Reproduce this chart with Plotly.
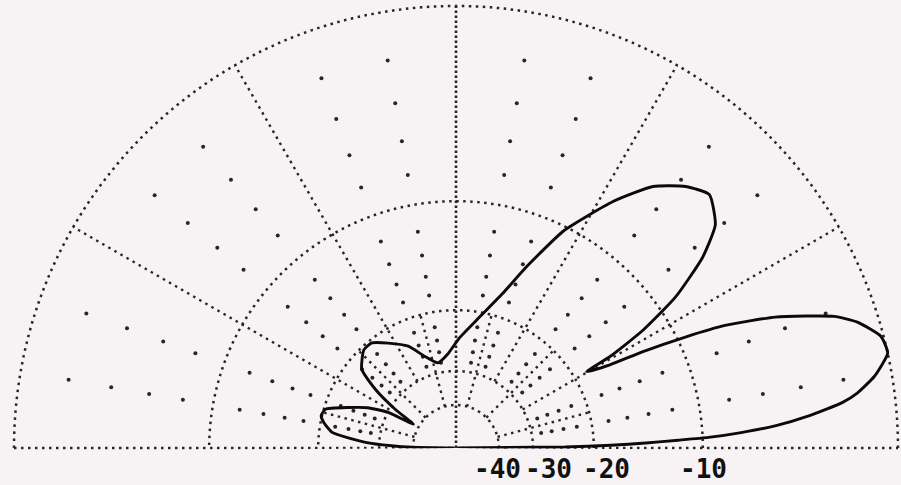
import numpy as np
import plotly.graph_objects as go

# ---------------- data ----------------
# elevation angle (deg, 0 = right horizon, 180 = left horizon) and relative gain (dB)
ANGLE_DEG = [0, 0.5, 1.0, 1.5, 2.0, 2.4, 3.1, 4.0, 5.2, 6.7, 7.8, 9.7, 12.4, 14.7,
             17.4, 19.2, 22.3, 24.5, 25.8, 27.3, 28.4, 30.3,
             30.7, 32.2, 34.5, 37.7, 40.7, 45.0, 48.7, 53.0, 57.5, 63.6, 68.9, 73.2,
             79.8, 88.1, 95.0, 101.9, 108.7, 115.1, 122.8, 128.7, 133.2, 140.2, 144.0,
             147.5, 150.8, 152.3, 155.5, 159.4, 163.5, 166.5, 169.1, 172.8, 176.4,
             178.0, 179.0, 180]
GAIN_DB = [-99, -24, -18, -14.5, -11.8, -9.6, -7.5, -5.5, -3.8, -2.2, -1.5, -0.7, 0.0, -0.1,
           -0.85, -1.7, -4.25, -6.9, -9.4, -12.8, -15.9, -18.4,
           -15.5, -11.9, -8.7, -6.0, -4.4, -3.6, -4.1, -5.15, -7.1, -10.3, -14.2, -17.3,
           -20.6, -23.8, -26.5, -27.9, -26.1, -23.5, -21.7, -20.4, -20.4, -22.0, -25.6,
           -31.1, -37.8, -30.1, -26.0, -23.1, -20.2, -19.9, -20.4, -21.7, -27.2,
           -33.0, -40.0, -99]

DENSE_RING_DB = [0, -10, -20, -30, -40]
SPARSE_RING_DB = [-2, -4, -6, -8, -12, -14, -16, -18, -22, -24, -26, -28]
SPARSE_STEP_DEG = 10
MAJOR_SPOKE_DEG = [30, 60, 120, 150]      # outer ring -> -30 dB ring
MINOR_SPOKE_DEG = [15, 45, 75, 105, 135, 165]  # -40 dB ring -> -20 dB ring
TICK_DB = [-40, -30, -20, -10]
TICK_LABELS = ["-40", "-30", "-20", "-10"]


def arrl(db):
    """ARRL log-periodic radial scale: each 2 dB = factor 0.89."""
    return 0.89 ** (-np.asarray(db, dtype=float) / 2.0)


# ---------------- layout geometry ----------------
W, H = 901, 485
CX, CY, R = 456, 448, 442          # centre and 0 dB radius in pixels
R_PAD = 1.005                      # radial range slightly beyond 0 dB (avoid clipping)
SECTOR = [-0.4, 180.4]             # a little below horizon (avoid clipping baseline)
RAX = R * R_PAD
DROP = np.sin(np.radians(-SECTOR[0])) * RAX
BG = "#f7f3f5"
INK = "#262626"
DOTS = "2.5px,4.5px"
LABEL_XSHIFT = [-1.5, 16, 12.5, 1]

fig = go.Figure()

common = dict(hoverinfo="skip", showlegend=False, cliponaxis=False)

# dense dotted rings
for db in DENSE_RING_DB:
    th = np.arange(0, 180.01, 0.5)
    fig.add_trace(go.Scatterpolar(theta=th, r=np.full(th.size, arrl(db)), mode="lines",
                                  line=dict(color=INK, width=2.5, dash=DOTS), **common))

# baseline (horizon) and vertical spoke
fig.add_trace(go.Scatterpolar(theta=[180, 180, 0, 0], r=[1, 0, 0, 1], mode="lines",
                              line=dict(color=INK, width=2.5, dash=DOTS), **common))
fig.add_trace(go.Scatterpolar(theta=[90, 90], r=[0, 1], mode="lines",
                              line=dict(color=INK, width=2.6, dash="2.5px,2.5px"), **common))

# spokes
th_s, r_s = [], []
for a in MAJOR_SPOKE_DEG:
    th_s += [a, a, None]
    r_s += [float(arrl(-30)), 1.0, None]
for a in MINOR_SPOKE_DEG:
    th_s += [a, a, None]
    r_s += [float(arrl(-40)), float(arrl(-20)), None]
fig.add_trace(go.Scatterpolar(theta=th_s, r=r_s, mode="lines", connectgaps=False,
                              line=dict(color=INK, width=2.4, dash=DOTS), **common))

# sparse ring dots (intermediate 2 dB rings)
th_d, r_d = [], []
for db in SPARSE_RING_DB:
    for a in range(SPARSE_STEP_DEG, 180, SPARSE_STEP_DEG):
        if a % 30 == 0:
            continue
        th_d.append(a)
        r_d.append(float(arrl(db)))
fig.add_trace(go.Scatterpolar(theta=th_d, r=r_d, mode="markers",
                              marker=dict(color=INK, size=4), **common))

# radiation pattern
fig.add_trace(go.Scatterpolar(theta=ANGLE_DEG, r=arrl(GAIN_DB), mode="lines",
                              line=dict(color="#0a0a0a", width=2.9, shape="spline", smoothing=0.5),
                              **common))

# tick labels under the baseline
for db, txt, dx in zip(TICK_DB, TICK_LABELS, LABEL_XSHIFT):
    xpx = CX + R * float(arrl(db))
    fig.add_annotation(x=xpx / W, y=(H - 468.5) / H, xref="paper", yref="paper",
                       text=txt, showarrow=False, xanchor="center", yanchor="middle",
                       xshift=dx,
                       font=dict(family="DejaVu Sans Mono", size=26, color="#111111",
                                 weight="bold"))

fig.update_layout(
    width=W, height=H,
    margin=dict(l=0, r=0, t=0, b=0),
    paper_bgcolor=BG, plot_bgcolor=BG,
    showlegend=False,
    polar=dict(
        domain=dict(x=[(CX - RAX) / W, (CX + RAX) / W],
                    y=[(H - CY - DROP) / H, (H - CY + RAX) / H]),
        sector=SECTOR,
        bgcolor=BG,
        radialaxis=dict(range=[0, R_PAD], visible=False, showgrid=False),
        angularaxis=dict(visible=False, showgrid=False, rotation=0,
                         direction="counterclockwise"),
    ),
)

fig.write_html("out.html",
               config={"displayModeBar": False},
               post_script="document.body.style.margin='0';"
                           "document.body.style.background='" + BG + "';"
                           "document.body.style.overflow='hidden';")
